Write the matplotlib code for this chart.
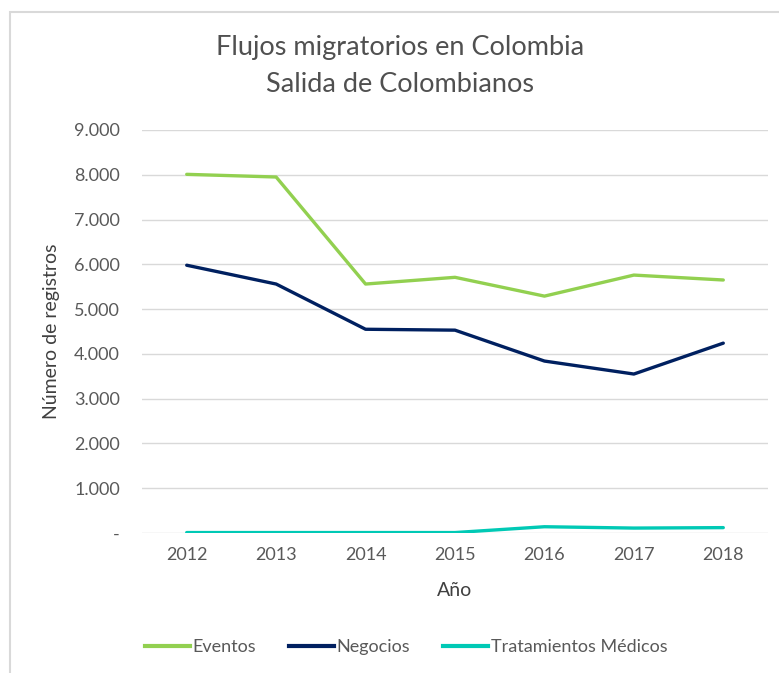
import matplotlib
matplotlib.use("Agg")
import matplotlib.pyplot as plt
from matplotlib.ticker import FuncFormatter
from matplotlib.patches import Rectangle
from matplotlib.lines import Line2D

plt.rcParams['font.family'] = ['Lato', 'DejaVu Sans']

years = ["2012", "2013", "2014", "2015", "2016", "2017", "2018"]
eventos = [8010, 7950, 5560, 5710, 5290, 5760, 5650]
negocios = [5980, 5560, 4550, 4530, 3840, 3550, 4240]
tratamientos = [10, 10, 10, 10, 140, 110, 120]

series_names = ["Eventos", "Negocios", "Tratamientos Médicos"]
colors = ["#92D050", "#002060", "#00C9B5"]

fig = plt.figure(figsize=(7.79, 6.73), dpi=100)
ax = fig.add_axes([142/779, 1-533/673, (768-142)/779, (533-130)/673])

x = list(range(len(years)))
for vals, c, n in zip([eventos, negocios, tratamientos], colors, series_names):
    ax.plot(x, vals, color=c, lw=2.4, label=n, solid_capstyle='round', solid_joinstyle='round', zorder=3)

ax.set_xlim(-0.5, len(years) - 0.5)
ax.set_ylim(0, 9000)
ax.set_yticks(range(0, 9001, 1000))
ax.yaxis.set_major_formatter(FuncFormatter(lambda v, p: "-" if v == 0 else f"{int(v):,}".replace(",", ".")))
ax.set_xticks(x)
ax.set_xticklabels(years)
ax.grid(axis='y', color='#D9D9D9', lw=1)
ax.set_axisbelow(True)
for s in ax.spines.values():
    s.set_visible(False)
ax.tick_params(length=0, colors='#595959', labelsize=13)
ax.tick_params(axis='y', pad=16)
ax.tick_params(axis='x', pad=10)

ax.set_ylabel("Número de registros", fontsize=14, color='#404040', labelpad=10)
ax.set_xlabel("Año", fontsize=14, color='#404040', labelpad=14)

fig.text(400/779, 1-48/673, "Flujos migratorios en Colombia", ha='center', va='center', fontsize=19.5, color='#505050')
fig.text(400/779, 1-85/673, "Salida de Colombianos", ha='center', va='center', fontsize=19.5, color='#505050')

handles = [Line2D([0], [0], color=c, lw=3) for c in colors]
fig.legend(handles, series_names, loc='center', bbox_to_anchor=(406/779, 1-647/673), ncol=3,
           frameon=False, fontsize=13, handlelength=2.5, handletextpad=0.15, columnspacing=1.8,
           labelcolor='#595959')

fig.patches.append(Rectangle((10/779, -0.05), 1.2, 1 - 12/673 + 0.05, transform=fig.transFigure,
                             fill=False, edgecolor='#D9D9D9', lw=1.5))

fig.savefig("out.png", dpi=100)
